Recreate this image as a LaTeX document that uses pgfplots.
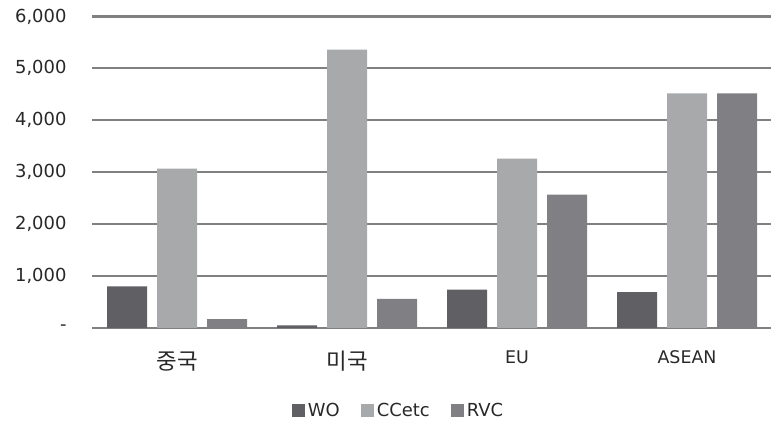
\documentclass[border=0pt]{standalone}
\usepackage{fontspec}
\setmainfont{DejaVu Sans}
\newfontfamily\kr{Noto Sans CJK KR}
\usepackage{pgfplots}
\pgfplotsset{compat=1.18}
\definecolor{woc}{RGB}{96,96,100}
\definecolor{ccc}{RGB}{168,169,171}
\definecolor{rvc}{RGB}{128,128,132}
\definecolor{gridc}{RGB}{128,128,128}
\definecolor{txt}{RGB}{40,40,40}
\begin{document}
\begin{tikzpicture}
\begin{axis}[
  at={(92bp,93bp)}, anchor=south west,
  scale only axis, width=680bp, height=311.6bp,
  xmin=-0.5, xmax=3.5, ymin=0, ymax=6000,
  ybar, bar width=40bp,
  axis line style={draw=none},
  major tick length=0pt,
  ymajorgrids, grid style={line width=2.2bp, color=gridc},
  xtick={0,1,2,3},
  xticklabels={{\kr\fontsize{22.5}{24}\selectfont\raisebox{-7bp}{중국}},
               {\kr\fontsize{22.5}{24}\selectfont\raisebox{-7bp}{미국}},EU,ASEAN},
  xticklabel style={anchor=base, yshift=-35bp, font=\fontsize{17.5}{20}\selectfont, text=txt},
  ytick={0,1000,2000,3000,4000,5000,6000},
  yticklabels={{-},{1,000},{2,000},{3,000},{4,000},{5,000},{6,000}},
  yticklabel style={anchor=east, xshift=-22bp, font=\fontsize{18}{20}\selectfont, text=txt},
  legend columns=3,
  legend style={draw=none, fill=none, at={(0.4515,-0.2637)}, anchor=center,
    font=\fontsize{18}{20}\selectfont, text=txt,
    nodes={inner sep=2.5bp},
    /tikz/every even column/.append style={column sep=19bp}},
  legend image code/.code={\fill[#1] (0bp,-6.5bp) rectangle (13bp,6.5bp);},
]
\addplot[fill=woc, draw=none, bar shift=-50bp] coordinates {(0,800) (1,50) (2,740) (3,690)};
\addplot[fill=ccc, draw=none, bar shift=0bp] coordinates {(0,3070) (1,5360) (2,3260) (3,4520)};
\addplot[fill=rvc, draw=none, bar shift=50bp] coordinates {(0,170) (1,560) (2,2570) (3,4520)};
\legend{WO,CCetc,RVC}
\end{axis}
\pgfresetboundingbox
\path (0,0) rectangle (771bp,421bp);
\end{tikzpicture}
\end{document}
